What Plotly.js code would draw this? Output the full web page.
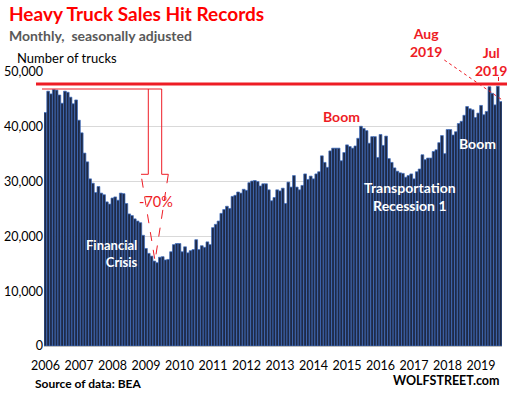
<!DOCTYPE html>
<html>
<head>
<meta charset="utf-8">
<script src="https://cdn.plot.ly/plotly-3.0.1.min.js"></script>
<style>
  html, body { margin: 0; padding: 0; background: #ffffff; }
  #chart { width: 507px; height: 398px; }
</style>
</head>
<body>
<div id="chart"></div>
<script>
// Tick labels (one per year)
const years = ['2006','2007','2008','2009','2010','2011','2012','2013','2014','2015','2016','2017','2018','2019'];
const monthCodes = ['01','02','03','04','05','06','07','08','09','10','11','12'];

// Monthly heavy truck sales (number of trucks), Jan 2006 - Aug 2019
const sales2006 = [42600, 46500, 46000, 46800, 46700, 45800, 44300, 46500, 46300, 45400, 44200, 44900];
const sales2007 = [41200, 38900, 35200, 33600, 30500, 29700, 28000, 29100, 27900, 27600, 26300, 25900];
const sales2008 = [27000, 27200, 26600, 27900, 27800, 26000, 24100, 23800, 23200, 22800, 22500, 20200];
const sales2009 = [17800, 16900, 16400, 15500, 15200, 16200, 16300, 15700, 15800, 17200, 18500, 18700];
const sales2010 = [18700, 17200, 18100, 17000, 17400, 17600, 19400, 17600, 18300, 18000, 19000, 18500];
const sales2011 = [21600, 22200, 22800, 24200, 24900, 25500, 25100, 27300, 27500, 28100, 27900, 28600];
const sales2012 = [28400, 29800, 30100, 30200, 30000, 29200, 29600, 29600, 28500, 26500, 27100, 28500];
const sales2013 = [28300, 28800, 26000, 29900, 29000, 31100, 29000, 28500, 29300, 31400, 30400, 31000];
const sales2014 = [30500, 31400, 31800, 34700, 33500, 32600, 35600, 36100, 36100, 36100, 33800, 35300];
const sales2015 = [36700, 36400, 36100, 36500, 37900, 40100, 39700, 39300, 37000, 38200, 38200, 34400];
const sales2016 = [38600, 36600, 38300, 34200, 33500, 32500, 31900, 31600, 31500, 30800, 31100, 31400];
const sales2017 = [30500, 31800, 32300, 34900, 34000, 34300, 34300, 35500, 35800, 37100, 38400, 35100];
const sales2018 = [39500, 39500, 38500, 39100, 40600, 41000, 42100, 43700, 43300, 43100, 41700, 42500];
const sales2019 = [43900, 42200, 42800, 47300, 46100, 44000, 47400, 44600];

const salesByYear = [sales2006, sales2007, sales2008, sales2009, sales2010, sales2011, sales2012,
                     sales2013, sales2014, sales2015, sales2016, sales2017, sales2018, sales2019];

const recordLevel = 47800;   // red record line
const yTicks = [0, 10000, 20000, 30000, 40000, 50000];

const months = [];
const sales = [];
salesByYear.forEach((arr, yi) => {
  arr.forEach((v, mi) => { months.push(years[yi] + '-' + monthCodes[mi]); sales.push(v); });
});

// pixel -> paper helpers (plot area: x 44..502, y 72..346)
const L = 44, R = 502, T = 72, B = 346;
const px = x => (x - L) / (R - L);
const py = y => (B - y) / (B - T);

const RED = '#ee1c25';
const trace = {
  type: 'bar',
  x: months,
  y: sales,
  marker: { color: '#1f2a46', line: { color: '#3e6dc2', width: 0.7 } },
  hoverinfo: 'x+y'
};

const solidArrow = 'M ' + px(42) + ' ' + py(89) + ' L ' + px(161.7) + ' ' + py(89) +
  ' L ' + px(161.7) + ' ' + py(174.3) + ' L ' + px(168.3) + ' ' + py(174.3) +
  ' M ' + px(148.3) + ' ' + py(89) + ' L ' + px(148.3) + ' ' + py(174.3) +
  ' L ' + px(141) + ' ' + py(174.3);
const dashedArrow = 'M ' + px(168.3) + ' ' + py(174.3) + ' L ' + px(155) + ' ' + py(261) +
  ' L ' + px(141) + ' ' + py(174.3);

const layout = {
  width: 507, height: 398,
  margin: { l: L, r: 507 - R, t: T, b: 398 - B },
  paper_bgcolor: '#ffffff', plot_bgcolor: '#ffffff',
  font: { family: 'Lato, "Liberation Sans", sans-serif', color: '#000000', size: 12 },
  bargap: 0,
  showlegend: false,
  xaxis: {
    type: 'category',
    tickmode: 'array',
    tickvals: years.map(y => y + '-01'),
    ticktext: years,
    tickangle: 0,
    showgrid: false,
    showline: true, linecolor: '#bfbfbf', linewidth: 1,
    ticks: '',
    ticklabelstandoff: 8,
    tickfont: { size: 12.5, color: '#000000' },
    range: [-0.5, months.length - 0.5],
    fixedrange: true
  },
  yaxis: {
    range: [0, 50000],
    tickmode: 'array',
    tickvals: yTicks,
    ticktext: yTicks.map(v => v.toLocaleString('en-US')),
    showgrid: true, gridcolor: '#d9d9d9', gridwidth: 1,
    zeroline: false,
    showline: false,
    ticks: '',
    tickfont: { size: 12.5, color: '#000000' },
    fixedrange: true
  },
  shapes: [
    { type: 'line', xref: 'paper', yref: 'y', x0: px(36), x1: px(507), y0: recordLevel, y1: recordLevel,
      line: { color: RED, width: 3 } },
    { type: 'path', xref: 'paper', yref: 'paper', path: solidArrow, line: { color: RED, width: 1 } },
    { type: 'path', xref: 'paper', yref: 'paper', path: dashedArrow, line: { color: RED, width: 1, dash: 'dash' } },
    { type: 'line', xref: 'paper', yref: 'paper', x0: px(444.3), y0: py(60), x1: px(502.3), y1: py(100),
      line: { color: RED, width: 1, dash: 'dot' } },
    { type: 'line', xref: 'paper', yref: 'paper', x0: px(498.5), y0: py(77), x1: px(498.5), y1: py(81),
      line: { color: RED, width: 1 } }
  ],
  annotations: [
    { xref: 'paper', yref: 'paper', x: px(7), y: py(14), xanchor: 'left', yanchor: 'middle', showarrow: false,
      text: '<b>Heavy Truck Sales Hit Records</b>', font: { size: 19, color: '#ff0000' } },
    { xref: 'paper', yref: 'paper', x: px(7), y: py(35), xanchor: 'left', yanchor: 'middle', showarrow: false,
      text: '<b>Monthly,  seasonally adjusted</b>', font: { size: 14, color: '#595959' } },
    { xref: 'paper', yref: 'paper', x: px(15), y: py(58), xanchor: 'left', yanchor: 'middle', showarrow: false,
      text: 'Number of trucks', font: { size: 13, color: '#000000' } },
    { xref: 'paper', yref: 'paper', x: px(156), y: py(201), xanchor: 'center', yanchor: 'middle', showarrow: false,
      text: '-70%', font: { size: 14.5, color: RED } },
    { xref: 'paper', yref: 'paper', x: px(139.5), y: py(253.5), xanchor: 'right', yanchor: 'middle', showarrow: false,
      align: 'right', text: '<b>Financial<br>Crisis</b>', font: { size: 13, color: '#ffffff' } },
    { xref: 'paper', yref: 'paper', x: px(341), y: py(116), xanchor: 'center', yanchor: 'middle', showarrow: false,
      text: '<b>Boom</b>', font: { size: 14, color: RED } },
    { xref: 'paper', yref: 'paper', x: px(410), y: py(196.5), xanchor: 'center', yanchor: 'middle', showarrow: false,
      align: 'center', text: '<b>Transportation<br>Recession 1</b>', font: { size: 14, color: '#ffffff' } },
    { xref: 'paper', yref: 'paper', x: px(477), y: py(143), xanchor: 'center', yanchor: 'middle', showarrow: false,
      text: '<b>Boom</b>', font: { size: 14, color: '#ffffff' } },
    { xref: 'paper', yref: 'paper', x: px(426), y: py(43), xanchor: 'center', yanchor: 'middle', showarrow: false,
      align: 'center', text: '<b>Aug<br>2019</b>', font: { size: 14, color: RED } },
    { xref: 'paper', yref: 'paper', x: px(491), y: py(61), xanchor: 'center', yanchor: 'middle', showarrow: false,
      align: 'center', text: '<b>Jul<br>2019</b>', font: { size: 14, color: RED } },
    { xref: 'paper', yref: 'paper', x: px(33), y: py(383), xanchor: 'left', yanchor: 'middle', showarrow: false,
      text: '<b>Source of data: BEA</b>', font: { size: 12, color: '#000000' } },
    { xref: 'paper', yref: 'paper', x: px(502), y: py(380), xanchor: 'right', yanchor: 'middle', showarrow: false,
      text: '<b>WOLFSTREET.com</b>', font: { size: 12.5, color: '#000000' } }
  ]
};

Plotly.newPlot('chart', [trace], layout, { displayModeBar: false, staticPlot: true });
</script>
</body>
</html>
